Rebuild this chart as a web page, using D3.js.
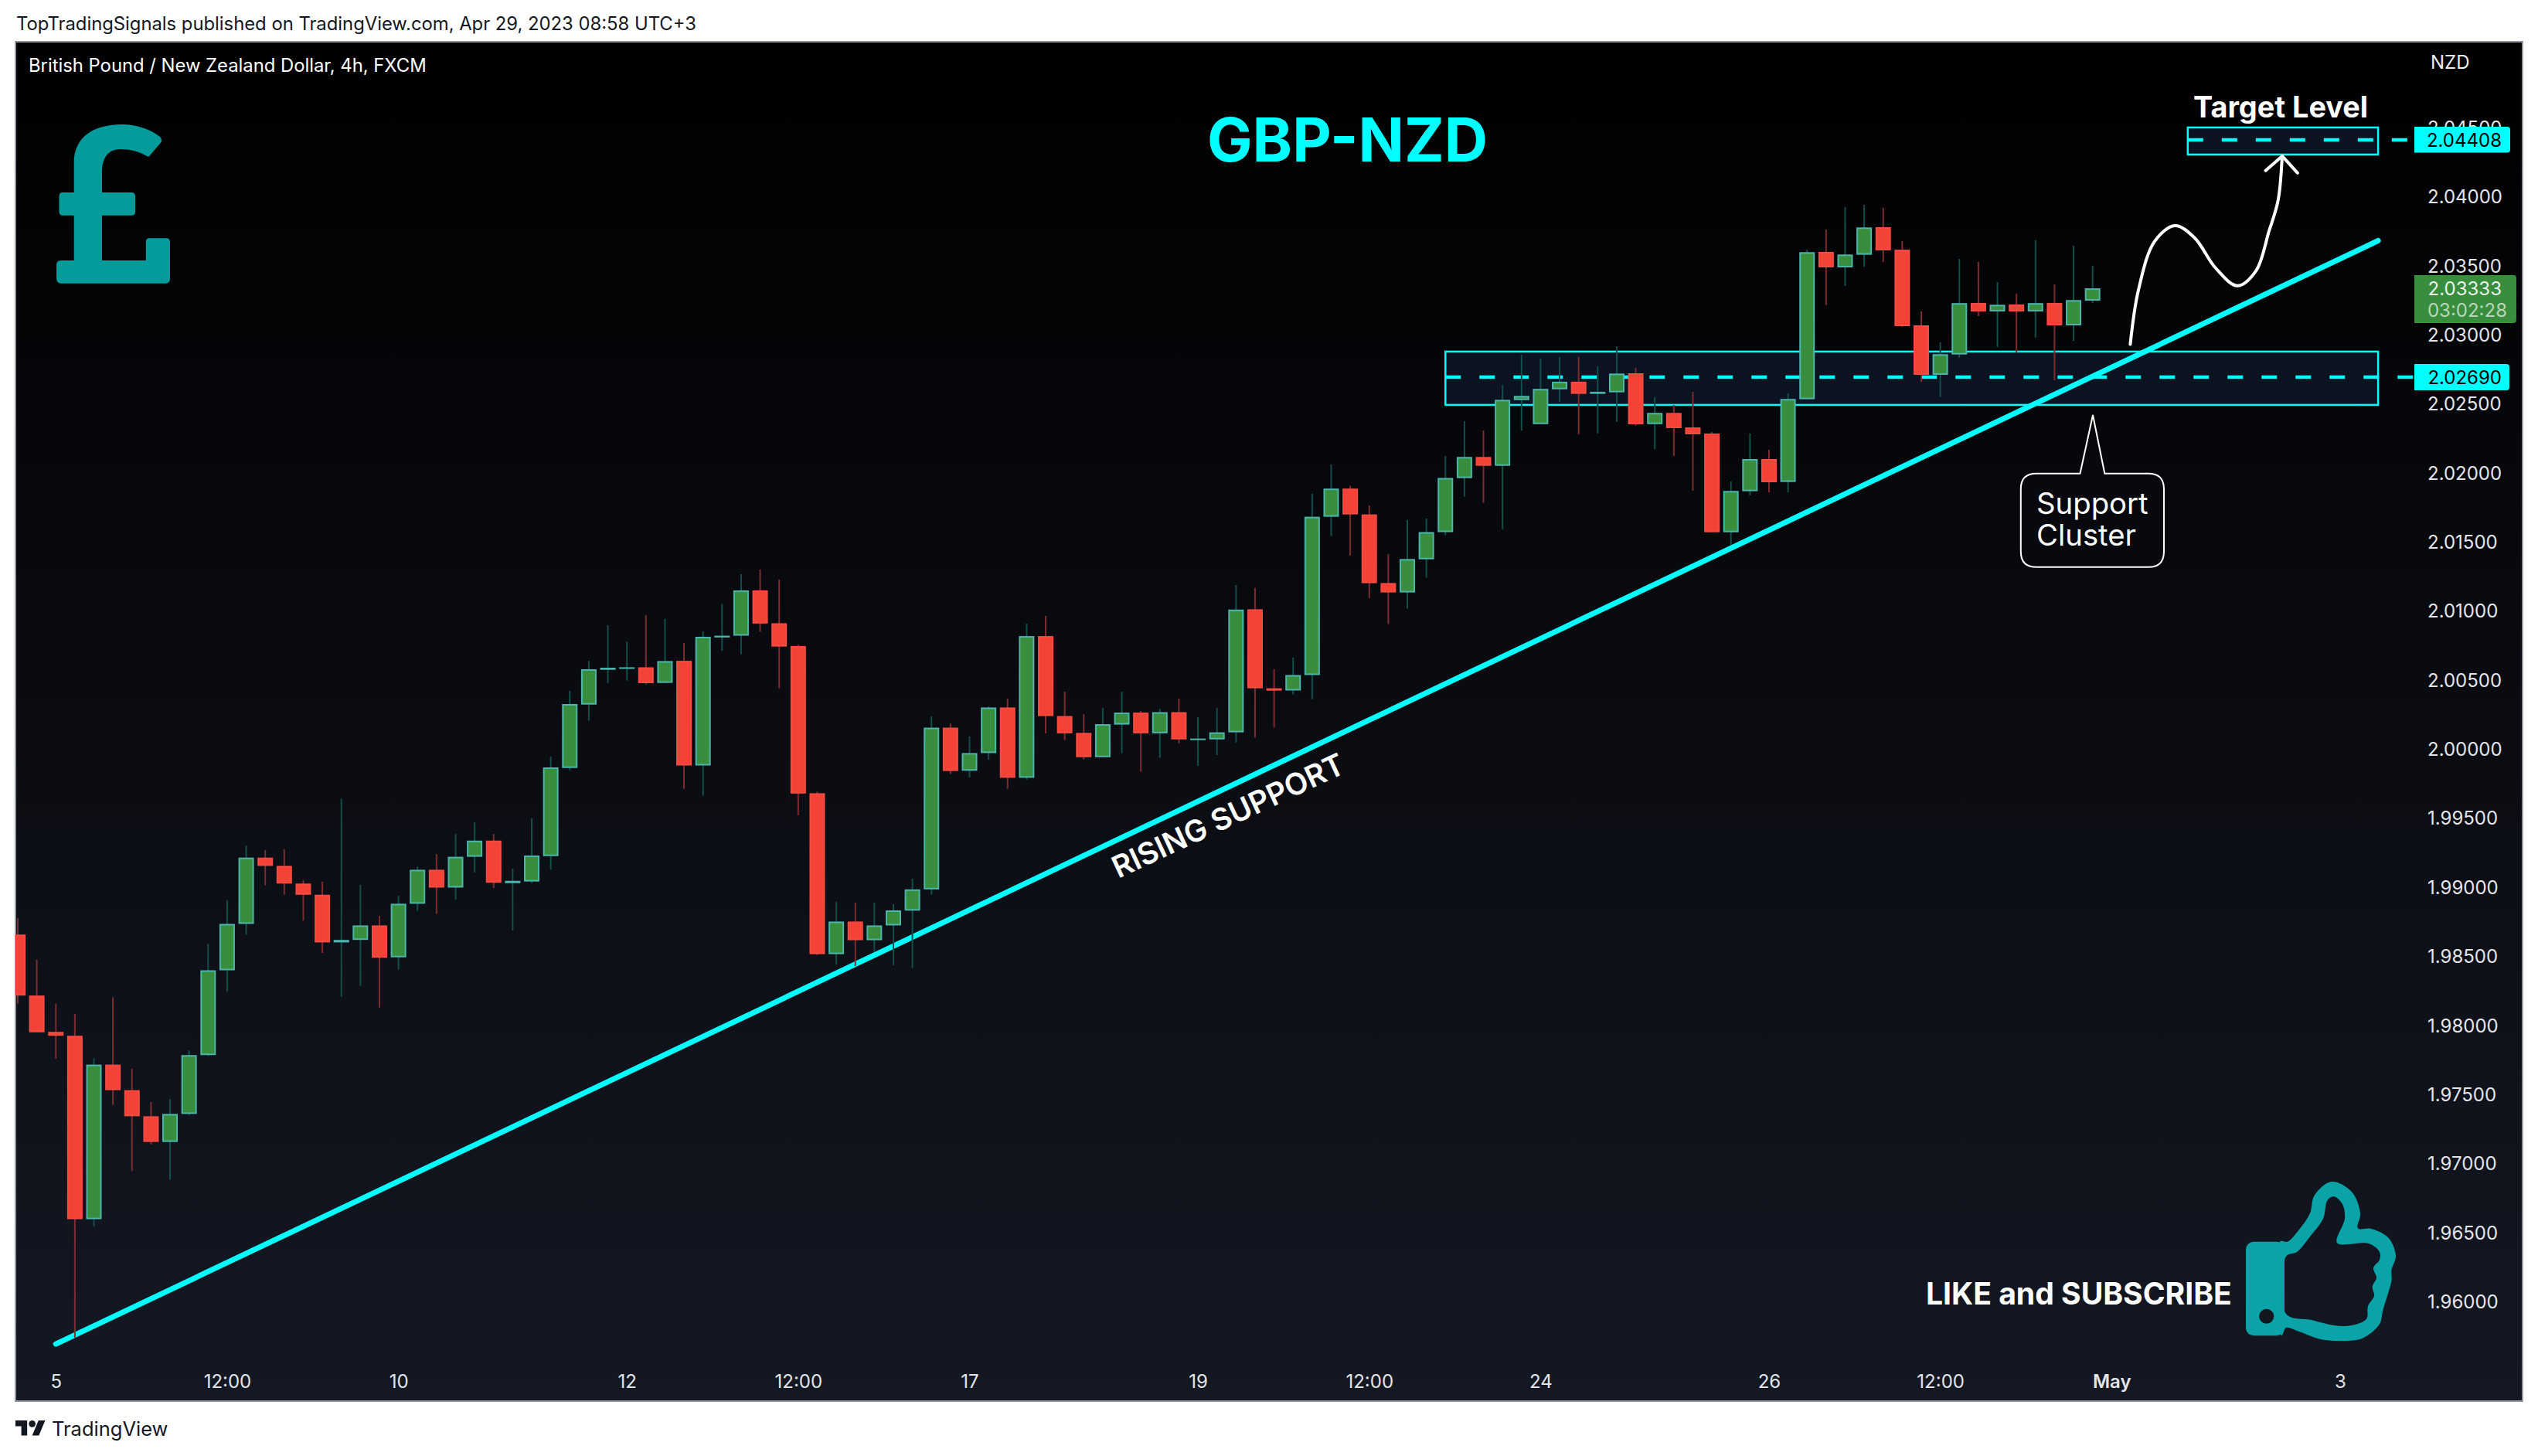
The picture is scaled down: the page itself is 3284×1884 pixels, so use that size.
<!DOCTYPE html>
<html><head><meta charset="utf-8">
<script src="https://d3js.org/d3.v7.min.js"></script>
<style>html,body{margin:0;padding:0;background:#fff}svg{display:block}text{font-family:Inter,"Noto Sans",sans-serif}</style>
</head><body><svg id="c" width="3284" height="1884" xmlns="http://www.w3.org/2000/svg"></svg>
<script>
const opens=[1.98654,1.98212,1.97949,1.97921,1.96593,1.97712,1.97527,1.97338,1.97152,1.97355,
1.97781,1.98395,1.98731,1.99211,1.99151,1.99023,1.98942,1.98597,1.98615,1.98720,
1.98489,1.98877,1.99123,1.98994,1.99217,1.99334,1.99026,1.99038,1.99222,1.99860,
2.00319,2.00571,2.00580,2.00589,2.00476,2.00636,1.99878,2.00805,2.00818,2.01146,
2.00908,2.00743,1.99677,1.98512,1.98748,1.98613,1.98720,1.98827,1.98981,2.00152,
1.99840,1.99968,2.00298,1.99789,2.00815,2.00236,2.00114,1.99938,2.00174,2.00261,
2.00111,2.00264,2.00062,2.00067,2.00118,2.01009,2.00437,2.00421,2.00533,2.01679,
2.01883,2.01696,2.01199,2.01131,2.01371,2.01568,2.01959,2.02112,2.02048,2.02524,
2.02350,2.02602,2.02657,2.02569,2.02580,2.02718,2.02350,2.02431,2.02326,2.02282,
2.01567,2.01864,2.02097,2.01931,2.02530,2.03597,2.03485,2.03576,2.03776,2.03613,
2.03065,2.02707,2.02854,2.03227,2.03166,2.03216,2.03166,2.03227,2.03065,2.03244];
const closes=[1.98212,1.97946,1.97921,1.96593,1.97712,1.97527,1.97338,1.97152,1.97355,1.97781,
1.98395,1.98731,1.99211,1.99151,1.99023,1.98942,1.98597,1.98615,1.98720,1.98486,
1.98877,1.99123,1.98994,1.99217,1.99334,1.99029,1.99043,1.99226,1.99864,2.00323,
2.00575,2.00586,2.00589,2.00474,2.00634,1.99878,2.00810,2.00818,2.01146,2.00906,
2.00739,1.99675,1.98512,1.98748,1.98613,1.98720,1.98829,1.98981,2.00152,1.99838,
1.99968,2.00298,1.99789,2.00815,2.00236,2.00111,1.99938,2.00177,2.00261,2.00111,
2.00264,2.00067,2.00073,2.00118,2.01007,2.00437,2.00420,2.00533,2.01679,2.01883,
2.01696,2.01198,2.01131,2.01373,2.01568,2.01960,2.02112,2.02048,2.02526,2.02554,
2.02605,2.02657,2.02569,2.02584,2.02716,2.02349,2.02431,2.02321,2.02276,2.01567,
2.01866,2.02097,2.01929,2.02532,2.03595,2.03485,2.03578,2.03774,2.03608,2.03059,
2.02707,2.02856,2.03226,2.03166,2.03214,2.03166,2.03226,2.03065,2.03248,2.03333];
const highs=[1.98774,1.98472,1.98155,1.98078,1.97758,1.98198,1.97681,1.97441,1.97464,1.97815,
1.98589,1.98903,1.99299,1.99265,1.99271,1.99048,1.99037,1.99639,1.99014,1.98789,
1.98934,1.99148,1.99237,1.99382,1.99468,1.99382,1.99131,1.99495,1.99942,2.00418,
2.00636,2.00894,2.00776,2.00967,2.00939,2.00765,2.00849,2.01048,2.01263,2.01297,
2.01224,2.00754,1.99688,1.98890,1.98885,1.98885,1.98874,1.99058,2.00233,2.00183,
2.00088,2.00306,2.00362,2.00905,2.00962,2.00413,2.00250,2.00296,2.00413,2.00273,
2.00289,2.00362,2.00228,2.00296,2.01185,2.01163,2.00575,2.00659,2.01845,2.02058,
2.01904,2.01761,2.01409,2.01656,2.01666,2.02119,2.02371,2.02304,2.02634,2.02852,
2.02824,2.02836,2.02836,2.02768,2.02914,2.02757,2.02545,2.02489,2.02584,2.02293,
2.01935,2.02282,2.02164,2.02573,2.03613,2.03759,2.03921,2.03938,2.03916,2.03675,
2.03166,2.02942,2.03546,2.03524,2.03378,2.03295,2.03681,2.03362,2.03641,2.03496];
const lows=[1.98155,1.97946,1.97755,1.95736,1.96539,1.97421,1.96941,1.97135,1.96879,1.97344,
1.97775,1.98240,1.98654,1.99011,1.98942,1.98754,1.98520,1.98203,1.98283,1.98126,
1.98400,1.98826,1.98803,1.98906,1.99105,1.98991,1.98683,1.99026,1.99125,1.99843,
2.00202,2.00476,2.00493,2.00465,2.00474,1.99709,1.99660,2.00709,2.00683,2.00846,
2.00437,1.99518,1.98505,1.98437,1.98426,1.98527,1.98432,1.98411,1.98942,1.99816,
1.99791,1.99920,1.99709,1.99775,2.00111,2.00062,1.99921,1.99938,1.99966,1.99833,
1.99934,2.00039,1.99876,1.99954,2.00045,2.00080,2.00152,2.00392,2.00358,2.01540,
2.01399,2.01090,2.00902,2.01014,2.01238,2.01545,2.01824,2.01780,2.01588,2.02304,
2.02350,2.02511,2.02276,2.02282,2.02366,2.02338,2.02170,2.02119,2.01868,2.01567,
2.01476,2.01834,2.01856,2.01856,2.02530,2.03211,2.03350,2.03490,2.03524,2.03054,
2.02657,2.02545,2.02830,2.03132,2.02908,2.02869,2.02976,2.02668,2.02953,2.03227];

const priceTicks=[1.96,1.965,1.97,1.975,1.98,1.985,1.99,1.995,2.0,2.005,2.01,2.015,2.02,2.025,2.03,2.035,2.04,2.045];
const timeTickIdx=[2,11,20,32,41,50,62,71,80,92,101,110,122];
const timeTickLabels=["5","12:00","10","12","12:00","17","19","12:00","24","26","12:00","May","3"];

const trendBars=[2,124], trendPrices=[1.95689,2.03678];
const supportBars=[75,124], supportPrices=[2.02875,2.02489], supportLevel=2.0269;
const targetBars=[114,124], targetPrices=[2.04498,2.04302], targetLevel=2.04408;
const lastPrice=2.03333;
const curveBars=[110.98,111.41,112.25,113.32,114.35,115.47,116.6,117.58,118.27,118.74,118.96];
const curvePrices=[2.02928,2.03322,2.03671,2.03787,2.03700,2.03479,2.03352,2.03459,2.03748,2.03966,2.04291];
const arrowBars=[118.09,118.96,119.77], arrowPrices=[2.04186,2.04291,2.04168];

const svg=d3.select("#c"), W=3284,H=1884;
const P={l:20,t:54,r:3264,b:1813};
const x=d3.scaleLinear().domain([0,122]).range([23,23+24.63*122]);
const y=d3.scaleLinear().domain([2.04408,1.96]).range([181,181+0.08408*17870]);

const defs=svg.append("defs");
const grad=defs.append("linearGradient").attr("id","bg").attr("x1",0).attr("x2",0).attr("y1",0).attr("y2",1);
grad.append("stop").attr("offset",0).attr("stop-color","#000000");
grad.append("stop").attr("offset",1).attr("stop-color","#141823");
defs.append("clipPath").attr("id","plot").append("rect").attr("x",P.l).attr("y",P.t).attr("width",P.r-P.l).attr("height",P.b-P.t);

svg.append("rect").attr("width",W).attr("height",H).attr("fill","#fff");
svg.append("rect").attr("x",P.l).attr("y",P.t).attr("width",P.r-P.l).attr("height",P.b-P.t).attr("fill","url(#bg)").attr("stroke","#9598a1").attr("stroke-width",2);

// header / footer
svg.append("text").attr("x",21).attr("y",39).attr("font-size",23.8).attr("fill","#131722").text("TopTradingSignals published on TradingView.com, Apr 29, 2023 08:58 UTC+3");
svg.append("text").attr("x",37).attr("y",93).attr("font-size",23.8).attr("fill","#ffffff").text("British Pound / New Zealand Dollar, 4h, FXCM");
const logo=svg.append("g").attr("transform","translate(20,1833.7) scale(1.083)").attr("fill","#131722");
logo.append("path").attr("d","M14 22H7V11H0V4h14v18zM28 22h-8l7.5-18h8L28 22z");
logo.append("circle").attr("cx",20).attr("cy",8).attr("r",4);
svg.append("text").attr("x",67).attr("y",1858).attr("font-size",25.5).attr("fill","#131722").text("TradingView");

const g=svg.append("g").attr("clip-path","url(#plot)");

// zones
function zone(bars,prices){
  g.append("rect").attr("x",x(bars[0])).attr("y",y(prices[0])).attr("width",x(bars[1])-x(bars[0])).attr("height",y(prices[1])-y(prices[0]))
   .attr("fill","#0b1220").attr("stroke","#00ffff").attr("stroke-width",2.5);
}
zone(supportBars,supportPrices); zone(targetBars,targetPrices);
function level(bar,p){
  g.append("line").attr("x1",x(bar)).attr("x2",3124).attr("y1",y(p)).attr("y2",y(p)).attr("stroke","#00ffff").attr("stroke-width",4.5).attr("stroke-dasharray","20 24");
}
level(supportBars[0],supportLevel); level(targetBars[0],targetLevel);

// trend line
g.append("line").attr("x1",x(trendBars[0])).attr("y1",y(trendPrices[0])).attr("x2",x(trendBars[1])).attr("y2",y(trendPrices[1]))
 .attr("stroke","#00ffff").attr("stroke-width",7).attr("stroke-linecap","round");

// candles
const idx=d3.range(opens.length);
const c=g.append("g").selectAll("g").data(idx).join("g");
c.append("line").attr("x1",i=>x(i)).attr("x2",i=>x(i)).attr("y1",i=>y(highs[i])).attr("y2",i=>y(lows[i]))
 .attr("stroke",i=>closes[i]>=opens[i]?"#124f4a":"#7d2c30").attr("stroke-width",2);
c.append("rect").attr("x",i=>x(i)-9).attr("width",18)
 .attr("y",i=>y(Math.max(opens[i],closes[i]))+1)
 .attr("height",i=>Math.max(0.01,y(Math.min(opens[i],closes[i]))-y(Math.max(opens[i],closes[i]))-2))
 .attr("fill",i=>closes[i]>=opens[i]?"#388e3c":"#f44336")
 .attr("stroke",i=>closes[i]>=opens[i]?"#4db6ac":"#f44c44").attr("stroke-width",2);

// price axis
const ya=svg.append("g").attr("transform","translate(3141,0)").call(d3.axisRight(y).tickValues(priceTicks).tickFormat(d3.format(".5f")).tickSize(0).tickPadding(0));
ya.select(".domain").remove();
ya.selectAll("text").attr("font-family","Inter").attr("font-size",24).attr("fill","#e3e5ea").attr("dy","0.37em");
svg.append("text").attr("x",3145).attr("y",89).attr("font-size",24).attr("fill","#eceef2").text("NZD");

// time axis
const xa=svg.append("g").attr("transform","translate(0,1779)").call(d3.axisBottom(x).tickValues(timeTickIdx).tickFormat((d,i)=>timeTickLabels[i]).tickSize(0).tickPadding(0));
xa.select(".domain").remove();
xa.selectAll("text").attr("font-family","Inter").attr("font-size",24).attr("fill","#e3e5ea").attr("font-weight",(d,i)=>timeTickLabels[i]==="May"?600:400);

// price labels
function priceLabel(p,label,fill,color,x2,y0,y1,sub){
  svg.append("path").attr("d",`M3124 ${y0}H${x2-4}a4 4 0 0 1 4 4V${y1-4}a4 4 0 0 1 -4 4H3124Z`).attr("fill",fill);
  svg.append("text").attr("x",3237).attr("y",y(p)).attr("dy","0.36em").attr("text-anchor","end").attr("font-size",24).attr("fill",color).text(label);
  if(sub) svg.append("text").attr("x",3244).attr("y",y(p)+28).attr("dy","0.36em").attr("text-anchor","end").attr("font-size",24).attr("fill","#b9d6bb").text(sub);
}
priceLabel(targetLevel,d3.format(".5f")(targetLevel),"#00ffff","#000",3248,164,197.5);
priceLabel(supportLevel,d3.format(".5f")(supportLevel),"#00ffff","#000",3247,471,505);
priceLabel(lastPrice,d3.format(".5f")(lastPrice),"#388e3c","#eaf3eb",3256,356,418,"03:02:28");

// forecast curve
const lineC=d3.line().x((d,i)=>x(curveBars[i])).y((d,i)=>y(curvePrices[i])).curve(d3.curveCatmullRom.alpha(0.5));
svg.append("path").attr("d",lineC(curveBars)).attr("fill","none").attr("stroke","#fff").attr("stroke-width",4).attr("stroke-linecap","round");
const lineA=d3.line().x((d,i)=>x(arrowBars[i])).y((d,i)=>y(arrowPrices[i]));
svg.append("path").attr("d",lineA(arrowBars)).attr("fill","none").attr("stroke","#fff").attr("stroke-width",4).attr("stroke-linecap","round").attr("stroke-linejoin","round");

// callout
const cx0=2614.8,cx1=2800,cy0=612.8,cy1=733.8,r=20;
svg.append("path").attr("d",`M${cx0+r} ${cy0}H2691.5L2708 537L2723.3 ${cy0}H${cx1-r}Q${cx1} ${cy0} ${cx1} ${cy0+r}V${cy1-r}Q${cx1} ${cy1} ${cx1-r} ${cy1}H${cx0+r}Q${cx0} ${cy1} ${cx0} ${cy1-r}V${cy0+r}Q${cx0} ${cy0} ${cx0+r} ${cy0}Z`)
 .attr("fill","#07090e").attr("stroke","#fff").attr("stroke-width",2);
svg.append("text").attr("x",2635).attr("y",665).attr("font-size",38.3).attr("fill","#fff").text("Support");
svg.append("text").attr("x",2635).attr("y",706).attr("font-size",38.3).attr("fill","#fff").text("Cluster");

// titles
svg.append("text").attr("x",1562).attr("y",209).attr("font-size",78).attr("font-weight",700).attr("fill","#00ffff").text("GBP-NZD");
svg.append("text").attr("x",2838).attr("y",151.7).attr("font-size",37.8).attr("font-weight",700).attr("fill","#fff").text("Target Level");
svg.append("text").attr("x",2492).attr("y",1687.7).attr("font-size",39.1).attr("font-weight",700).attr("fill","#fff").text("LIKE and SUBSCRIBE");
svg.append("text").attr("transform","translate(1447,1137) rotate(-25)").attr("font-size",39).attr("font-weight",600).attr("fill","#fff").text("RISING SUPPORT");

// pound icon
svg.append("path").attr("fill","#049b9b").attr("d","M95.7 249V210C95.7 180 118 161 158 161C178 161 196 168 207 177Q210 180 208.5 184L194 201Q192.6 203.500 190 202C180 196 168 193 156 193C140 193 132 204 132 222V249H170Q175 249 175 254V274Q175 278.700 170 278.700H132V337H188.800V313Q188.800 308.300 193 308.300H215Q220 308.300 220 313V360Q220 366.700 214 366.700H79Q73 366.700 73 360V343Q73 337 79 337H95.700V278.700H81Q76.500 278.700 76.500 274V254Q76.500 249 81 249Z");

// thumb icon
const thumbColor="#09a3a8";
const thumb=svg.append("g");
const outerPts=[[2950,1606.7],[2959.8,1606.7],[2975,1591],[2989,1570],[2994.7,1546.7],[3017,1529],[3042.6,1541.7],[3054,1570],[3051,1589.3],[3068,1590],[3090.5,1601.7],[3100,1625],[3094.5,1643.3],[3094.5,1656.7],[3089,1676.7],[3083,1696.7],[3079,1713.3],[3056.7,1731.7],[3031,1735],[3003,1733],[2975,1723],[2958,1718],[2952.4,1728.3]];
const holePts=[[2958,1625.7],[2972,1620],[2989,1600],[3006,1576.7],[3011.6,1553],[3020,1548.3],[3031,1558.3],[3034,1576.7],[3024,1608.3],[3065,1609],[3079,1620],[3079,1630],[3071,1640.7],[3075,1653.3],[3069.700,1665],[3072,1676.7],[3064,1690],[3062,1706.7],[3042.6,1715],[3020,1715],[2992,1708.3],[2958,1700]];
const cl=d3.line().curve(d3.curveCatmullRomClosed.alpha(0.5));
thumb.append("rect").attr("x",2906).attr("y",1606.7).attr("width",50).attr("height",121.6).attr("rx",10).attr("fill",thumbColor);
thumb.append("path").attr("fill-rule","evenodd").attr("fill",thumbColor).attr("d",cl(outerPts)+cl(holePts));
thumb.append("ellipse").attr("cx",2932.7).attr("cy",1703.3).attr("rx",9.5).attr("ry",9.5).attr("fill","#12161f");
</script></body></html>
